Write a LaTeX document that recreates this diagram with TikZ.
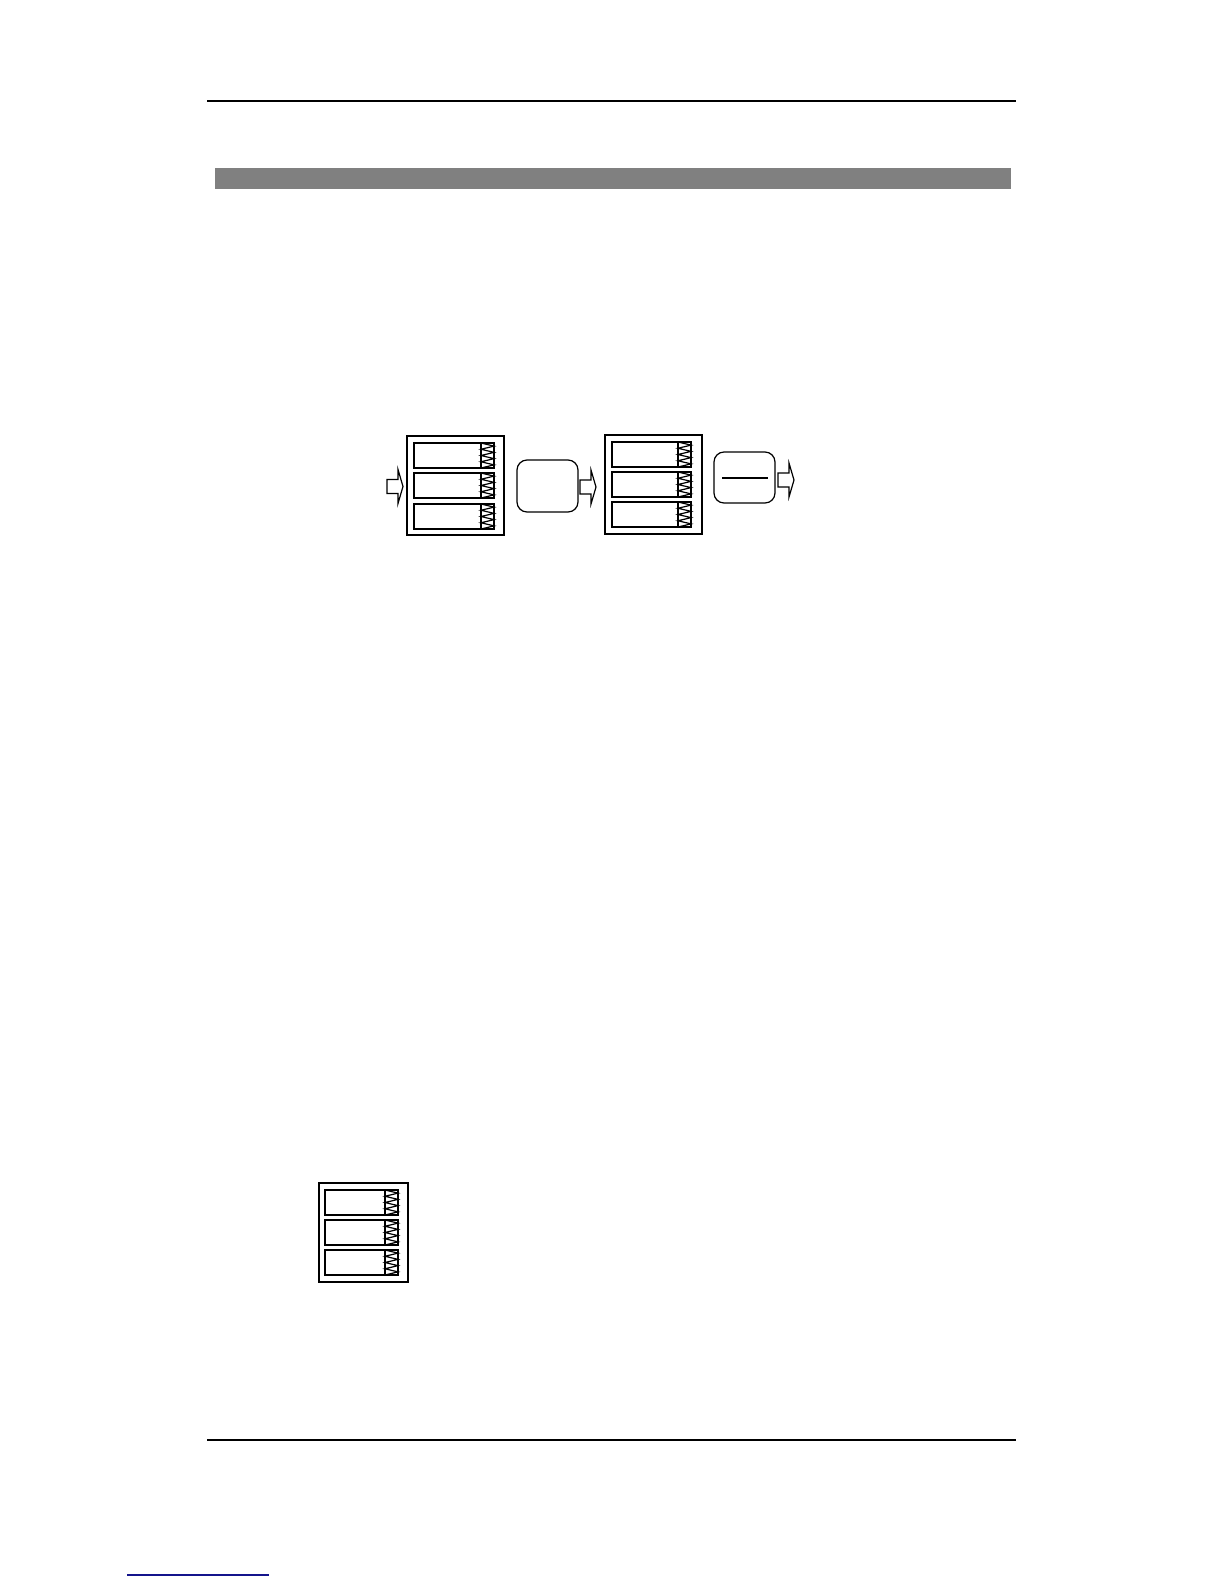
\documentclass[tikz,border=0pt]{standalone}
\usepackage{tikz}
\usetikzlibrary{calc}
\definecolor{linkblue}{RGB}{20,20,140}
\def\slot(#1,#2)(#3){\begin{scope}[shift={(#1,#2)}]
	\draw (0,0) rectangle (#3,25);
	\draw (#3-13,0) -- (#3-13,25);
	\draw (#3-13,0) \foreach \k in {1,...,8} { -- ({#3-13*(1-mod(\k,2))},{3.125*\k}) };
\end{scope}}
\def\blockarrow(#1,#2){\draw (#1,#2-7) -- ++(11,0) -- ++(0,-10) -- ++(5,17) -- ++(-5,17) -- ++(0,-10) -- ++(-11,0) -- cycle;}

\begin{document}
\begin{tikzpicture}[x=0.5bp,y=-0.5bp,line width=0.6bp]
			%%%%% START %%%%%
			\useasboundingbox (0,0) rectangle (1224,1584);
			
			\draw[line width=1bp] (207,101) -- (1016,101);
			\fill[black!50] (215,168) rectangle (1011,189);
			
			\blockarrow(387,486.5)
			\draw (407,436) rectangle (504,535);
			\slot(414,443)(80)
			\slot(414,473)(80)
			\slot(414,504)(80)
			
			\draw[rounded corners=5bp] (517,460) rectangle (578,512);
			\blockarrow(580,487)
			
			\draw (605,435) rectangle (702,534);
			\slot(612,442)(79)
			\slot(612,472)(79)
			\slot(612,502)(79)
			
			\draw[rounded corners=5bp] (714,452) rectangle (775,503);
			\draw (722,478) -- (768,478);
			\blockarrow(778,480)
			
			\draw (319,1183) rectangle (408,1282);
			\slot(325,1190)(73)
			\slot(325,1220)(73)
			\slot(325,1250)(73)
			
			\draw[line width=1bp] (207,1440) -- (1016,1440);
			\draw[linkblue, line width=1bp] (127,1575) -- (269,1575);
			%%%%% END %%%%%
\end{tikzpicture}
\end{document}
